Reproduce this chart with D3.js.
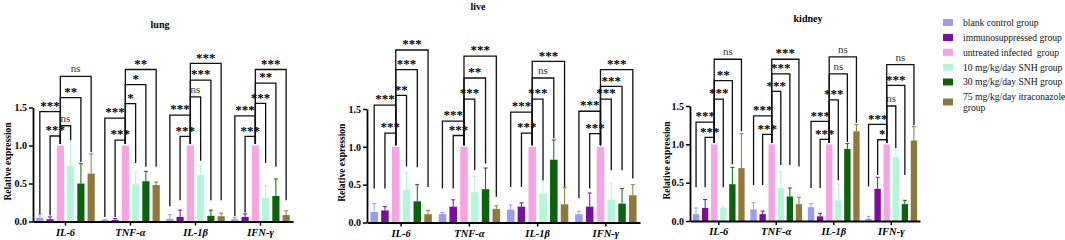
<!DOCTYPE html>
<html><head><meta charset="utf-8">
<script src="https://cdn.jsdelivr.net/npm/d3@7"></script>
<style>
body{margin:0;background:#fff}
svg{display:block}
svg text{font-family:"Liberation Serif","Times New Roman",serif !important}
</style>
</head><body>
<svg id="c" width="1065" height="240"></svg>
<script>
// ---------- data ----------
const categories = ["IL-6", "TNF-α", "IL-1β", "IFN-γ"];
const groupNames = [
  "blank control group",
  "immunosuppressed group",
  "untreated infected  group",
  "10 mg/kg/day SNH group",
  "30 mg/kg/day SNH group",
  "75 mg/kg/day itraconazole group"
];
const panelTitles = ["lung", "live", "kidney"];
const yTicks = [0, 0.5, 1.0, 1.5];
const comparisons = [[1, 2], [0, 2], [2, 3], [2, 4], [2, 5]];

// means (rows: cytokines, cols: groups)
const lungMeans = [
  [0.05, 0.03, 1.0, 0.73, 0.50, 0.63],
  [0.02, 0.02, 1.0, 0.49, 0.53, 0.48],
  [0.035, 0.06, 1.0, 0.61, 0.075, 0.07],
  [0.03, 0.06, 1.0, 0.31, 0.335, 0.085]
];
const lungErrTop = [
  [0.09, 0.06, 1.0, 1.05, 0.76, 0.89],
  [0.03, 0.04, 1.0, 0.65, 0.66, 0.52],
  [0.09, 0.15, 1.0, 0.74, 0.15, 0.11],
  [0.05, 0.10, 1.0, 0.47, 0.56, 0.14]
];
const liveMeans = [
  [0.14, 0.16, 1.0, 0.43, 0.28, 0.11],
  [0.11, 0.21, 1.0, 0.40, 0.44, 0.18],
  [0.17, 0.21, 1.0, 0.38, 0.83, 0.24],
  [0.11, 0.21, 1.0, 0.30, 0.25, 0.36]
];
const liveErrTop = [
  [0.25, 0.21, 1.0, 0.66, 0.50, 0.16],
  [0.13, 0.30, 1.0, 0.61, 0.72, 0.22],
  [0.23, 0.26, 1.0, 0.55, 1.09, 0.46],
  [0.15, 0.39, 1.0, 0.52, 0.45, 0.50]
];
const kidneyMeans = [
  [0.09, 0.17, 1.0, 0.17, 0.48, 0.69],
  [0.15, 0.09, 1.0, 0.43, 0.32, 0.22],
  [0.18, 0.06, 1.0, 0.27, 0.94, 1.17],
  [0.03, 0.42, 1.0, 0.84, 0.22, 1.05]
];
const kidneyErrTop = [
  [0.17, 0.28, 1.0, 0.18, 0.70, 1.14],
  [0.24, 0.13, 1.0, 0.64, 0.43, 0.31],
  [0.23, 0.10, 1.0, 0.48, 1.01, 1.26],
  [0.06, 0.57, 1.0, 0.92, 0.27, 1.23]
];

// significance brackets: heights (data units) in comparison order
const lungSigHeights = [
  [1.125, 1.445, 1.26, 1.63, 1.91],
  [1.07, 1.36, 1.55, 1.80, 2.00],
  [1.12, 1.40, 1.64, 1.86, 2.08],
  [1.12, 1.39, 1.555, 1.82, 2.00]
];
const lungSigLabels = [
  ["***", "***", "ns", "**", "ns"],
  ["***", "***", "*", "*", "**"],
  ["***", "***", "ns", "***", "***"],
  ["***", "***", "***", "**", "***"]
];
const liveSigHeights = [
  [1.18, 1.55, 1.68, 2.02, 2.28],
  [1.15, 1.34, 1.63, 1.91, 2.20],
  [1.18, 1.46, 1.63, 1.91, 2.13],
  [1.175, 1.47, 1.63, 1.80, 2.02]
];
const liveSigLabels = [
  ["***", "***", "**", "***", "***"],
  ["***", "***", "***", "**", "***"],
  ["***", "***", "***", "ns", "***"],
  ["***", "***", "***", "***", "***"]
];
const kidneySigHeights = [
  [1.09, 1.29, 1.59, 1.83, 2.11],
  [1.13, 1.37, 1.69, 1.92, 2.11],
  [1.065, 1.30, 1.58, 1.92, 2.14],
  [1.06, 1.26, 1.50, 1.77, 2.04]
];
const kidneySigLabels = [
  ["***", "***", "***", "**", "ns"],
  ["***", "***", "***", "***", "***"],
  ["***", "***", "***", "ns", "ns"],
  ["*", "***", "ns", "***", "ns"]
];
// lower ends of bracket legs for bars 1,2,4,5,6 (data units)
const lungLegEnds = [
  [0.10, 0.08, 1.07, 0.78, 0.91],
  [0.06, 0.06, 0.77, 0.72, 0.72],
  [0.20, 0.28, 0.80, 0.28, 0.28],
  [0.07, 0.12, 0.77, 0.72, 0.28]
];
const liveLegEnds = [
  [0.45, 0.45, 0.74, 0.73, 0.47],
  [0.45, 0.45, 0.69, 0.78, 0.34],
  [0.47, 0.47, 0.56, 1.11, 0.47],
  [0.32, 0.45, 0.69, 0.69, 0.58]
];
const kidneyLegEnds = [
  [0.44, 0.44, 0.44, 0.74, 1.17],
  [0.47, 0.47, 0.73, 0.73, 0.71],
  [0.43, 0.43, 0.53, 1.03, 1.28],
  [0.45, 0.60, 0.95, 0.60, 1.25]
];
const pinkLegEnd = 1.02;

// ---------- styles ----------
const colors = ["#9b9bf5", "#7b0da3", "#f5a5e3", "#b3f6dc", "#0b640d", "#8d7a3b"];
const SERIF = "'Liberation Serif', 'Times New Roman', serif";

const svg = d3.select("#c");
svg.append("rect").attr("width", 1065).attr("height", 240).attr("fill", "#fff");

const panels = [
  {title: panelTitles[0], means: lungMeans, errs: lungErrTop, sh: lungSigHeights, sl: lungSigLabels, legs: lungLegEnds,
   x0: 33, x1: 293, yb: 221.5, yt: 107.5, ytx: 7, tx: 160, ty: 28},
  {title: panelTitles[1], means: liveMeans, errs: liveErrTop, sh: liveSigHeights, sl: liveSigLabels, legs: liveLegEnds,
   x0: 367, x1: 640, yb: 222.5, yt: 109, ytx: 341, tx: 478, ty: 9.5},
  {title: panelTitles[2], means: kidneyMeans, errs: kidneyErrTop, sh: kidneySigHeights, sl: kidneySigLabels, legs: kidneyLegEnds,
   x0: 690, x1: 920, yb: 221, yt: 106, ytx: 666, tx: 808, ty: 21.5}
];

panels.forEach(p => {
  const g = svg.append("g");
  const x = d3.scaleBand().domain(categories).range([p.x0, p.x1]).paddingInner(0).paddingOuter(0);
  const bw = x.bandwidth();
  const xi = d3.scaleBand().domain(d3.range(groupNames.length)).range([bw * 0.05, bw * 0.95]).paddingInner(0.3).paddingOuter(0);
  const y = d3.scaleLinear().domain([0, 1.5]).range([p.yb, p.yt]);
  const cx = (ci, gi) => x(categories[ci]) + xi(gi) + xi.bandwidth() / 2;

  // bars + error bars
  categories.forEach((cat, ci) => {
    p.means[ci].forEach((v, gi) => {
      g.append("rect")
        .attr("x", x(cat) + xi(gi)).attr("y", y(v))
        .attr("width", xi.bandwidth()).attr("height", y(0) - y(v))
        .attr("fill", colors[gi]);
      const e = p.errs[ci][gi];
      if (e > v) {
        const c = cx(ci, gi);
        g.append("line").attr("x1", c).attr("x2", c).attr("y1", y(v)).attr("y2", y(e))
          .attr("stroke", colors[gi]).attr("stroke-width", 1);
        g.append("line").attr("x1", c - 2).attr("x2", c + 2).attr("y1", y(e)).attr("y2", y(e))
          .attr("stroke", colors[gi]).attr("stroke-width", 1);
      }
    });
  });

  // significance brackets
  const legIdx = {0: 0, 1: 1, 3: 2, 4: 3, 5: 4};
  categories.forEach((cat, ci) => {
    comparisons.forEach(([a, b], k) => {
      const h = p.sh[ci][k];
      const endA = a === 2 ? pinkLegEnd : p.legs[ci][legIdx[a]];
      const endB = b === 2 ? pinkLegEnd : p.legs[ci][legIdx[b]];
      const xa = cx(ci, a), xb = cx(ci, b);
      g.append("path")
        .attr("d", `M${xa},${y(endA)}V${y(h)}H${xb}V${y(endB)}`)
        .attr("fill", "none").attr("stroke", "#111").attr("stroke-width", 1.3);
      const lab = p.sl[ci][k];
      const isNs = lab === "ns";
      g.append("text")
        .attr("x", (xa + xb) / 2)
        .attr("y", y(h) - (isNs ? 4 : 1.8))
        .attr("text-anchor", "middle")
        .style("font-family", SERIF)
        .style("font-size", (isNs ? 11 : 13) + "px")
        .style("font-weight", isNs ? "normal" : "bold")
        .attr("fill", isNs ? "#333" : "#000")
        .text(lab);
    });
  });

  // axes
  const xAxis = g.append("g").attr("transform", `translate(0,${y(0)})`)
    .call(d3.axisBottom(x).tickSize(4).tickSizeOuter(0));
  xAxis.attr("font-family", null).attr("font-size", null);
  xAxis.select(".domain").attr("stroke-width", 1.8);
  xAxis.selectAll(".tick line").attr("stroke-width", 1.5);
  xAxis.selectAll(".tick text").style("font-family", SERIF).style("font-size", "10.5px")
    .style("font-style", "italic").style("font-weight", "bold").attr("fill", "#000");

  const yAxis = g.append("g").attr("transform", `translate(${p.x0},0)`)
    .call(d3.axisLeft(y).tickValues(yTicks).tickFormat(d3.format(".1f")).tickSize(4).tickSizeOuter(0).tickPadding(2));
  yAxis.attr("font-family", null).attr("font-size", null);
  yAxis.select(".domain").attr("stroke-width", 1.8);
  yAxis.selectAll(".tick line").attr("stroke-width", 1.5);
  yAxis.selectAll(".tick text").style("font-family", SERIF).style("font-size", "10px")
    .style("font-weight", "bold").attr("fill", "#000");

  // y title
  const ym = (p.yb + p.yt) / 2 - 3;
  g.append("text")
    .attr("transform", `translate(${p.ytx + 3.5},${ym}) rotate(-90)`)
    .attr("text-anchor", "middle")
    .style("font-family", SERIF).style("font-size", "9.5px").style("font-weight", "bold")
    .text("Relative expression");

  // panel title
  g.append("text").attr("x", p.tx).attr("y", p.ty).attr("text-anchor", "middle")
    .style("font-family", SERIF).style("font-size", "10px").style("font-weight", "bold")
    .text(p.title);
});

// legend
const leg = svg.append("g");
const rowsY = [22.5, 37.5, 52.3, 67.3, 82, 102];
groupNames.forEach((name, i) => {
  leg.append("rect").attr("x", 943).attr("y", rowsY[i] - 3.5).attr("width", 10).attr("height", 7).attr("fill", colors[i]);
  const t = leg.append("text").attr("x", 963).attr("fill", "#111")
    .style("font-family", SERIF).style("font-size", "9.6px").style("white-space", "pre");
  if (i === 5) {
    const words = name.split(" ");
    t.append("tspan").attr("x", 963).attr("y", rowsY[i] - 5.3 + 3.3).text(words.slice(0, -1).join(" "));
    t.append("tspan").attr("x", 963).attr("y", rowsY[i] + 5.7 + 3.3).text(words[words.length - 1]);
  } else {
    t.attr("y", rowsY[i] + 3.3).text(name);
  }
});
</script>
</body></html>
